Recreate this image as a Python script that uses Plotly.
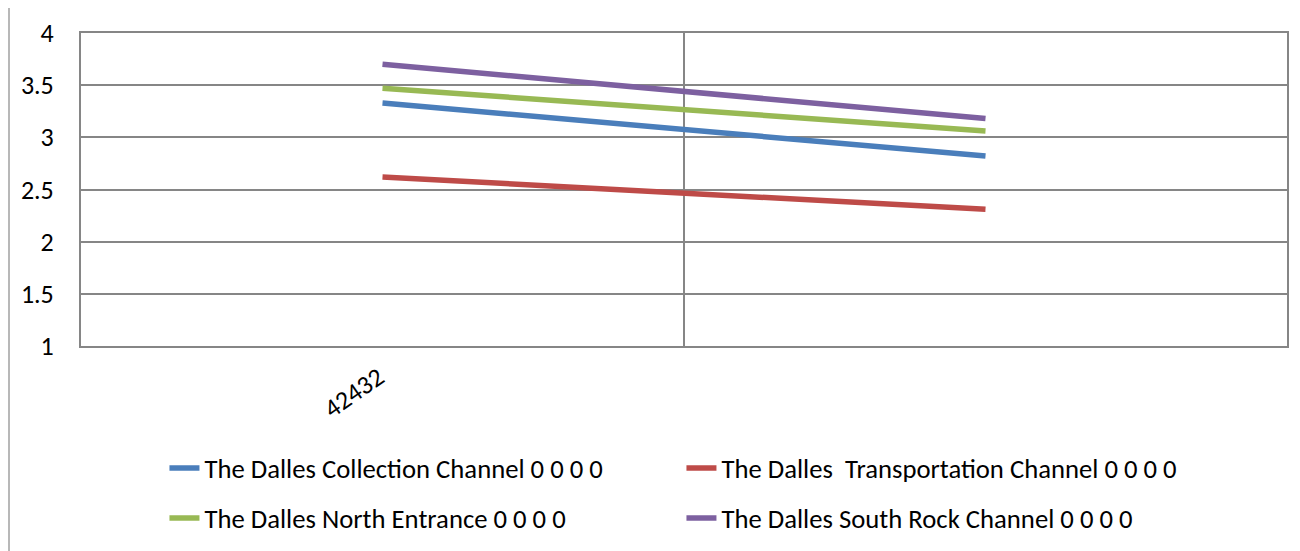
import plotly.graph_objects as go

categories = ["42432", " "]
series_names = [
    "The Dalles Collection Channel 0 0 0 0",
    "The Dalles  Transportation Channel 0 0 0 0",
    "The Dalles North Entrance 0 0 0 0",
    "The Dalles South Rock Channel 0 0 0 0",
]
collection = [3.33, 2.82]
transportation = [2.62, 2.31]
north_entrance = [3.47, 3.06]
south_rock = [3.70, 3.18]
y_ticks = [1, 1.5, 2, 2.5, 3, 3.5, 4]

colors = ["#4A7EBB", "#BE4B48", "#98B954", "#7D60A0"]
values = [collection, transportation, north_entrance, south_rock]
legends = ["legend", "legend", "legend2", "legend2"]

FONT = "Carlito, Lato, sans-serif"
GRID = "#868686"
FS = 26
LFS = 26.7

W, H = 1292, 543
ML, MR, MT, MB = 73, 13, 25, 205
PW = W - ML - MR
PH = H - MT - MB

fig = go.Figure()
for name, vals, col, lg in zip(series_names, values, colors, legends):
    fig.add_trace(go.Scatter(
        x=categories, y=vals, name=name, mode="lines",
        line=dict(color=col, width=5.5), legend=lg,
    ))

leg_common = dict(
    orientation="h", xanchor="left", yanchor="middle",
    entrywidth=472, entrywidthmode="pixels",
    font=dict(family=FONT, size=LFS, color="#000000"),
    bgcolor="rgba(0,0,0,0)", borderwidth=0,
    itemclick=False, itemdoubleclick=False, traceorder="normal",
)

fig.update_layout(
    width=W, height=H,
    margin=dict(l=ML, r=MR, t=MT, b=MB, autoexpand=False),
    paper_bgcolor="white", plot_bgcolor="white",
    font=dict(family=FONT, size=FS, color="#000000"),
    showlegend=True,
    legend=dict(x=0.0692, y=-0.39, **leg_common),
    legend2=dict(x=0.0692, y=-0.55, **leg_common),
    xaxis=dict(
        type="category", tickson="boundaries",
        range=[-0.5, 1.5], automargin=False,
        showgrid=True, gridcolor=GRID, gridwidth=1.5,
        showline=True, linecolor=GRID, linewidth=2, mirror=True,
        ticks="", tickangle=-35,
        ticklabelshift=-4, ticklabelstandoff=4,
        tickfont=dict(family=FONT, size=FS),
        zeroline=False,
    ),
    yaxis=dict(
        range=[1, 4], tickvals=y_ticks, automargin=False,
        showgrid=True, gridcolor=GRID, gridwidth=1.5,
        showline=True, linecolor=GRID, linewidth=2, mirror=True,
        ticks="", ticklabelstandoff=20,
        tickfont=dict(family=FONT, size=FS),
        zeroline=False,
    ),
    shapes=[dict(
        type="line", xref="paper", yref="paper",
        x0=(1 - ML) / PW, x1=(1 - ML) / PW, y0=-MB / PH, y1=1 + MT / PH,
        line=dict(color="#A0A0A0", width=1.5),
    )],
)

fig.write_html("out.html")
